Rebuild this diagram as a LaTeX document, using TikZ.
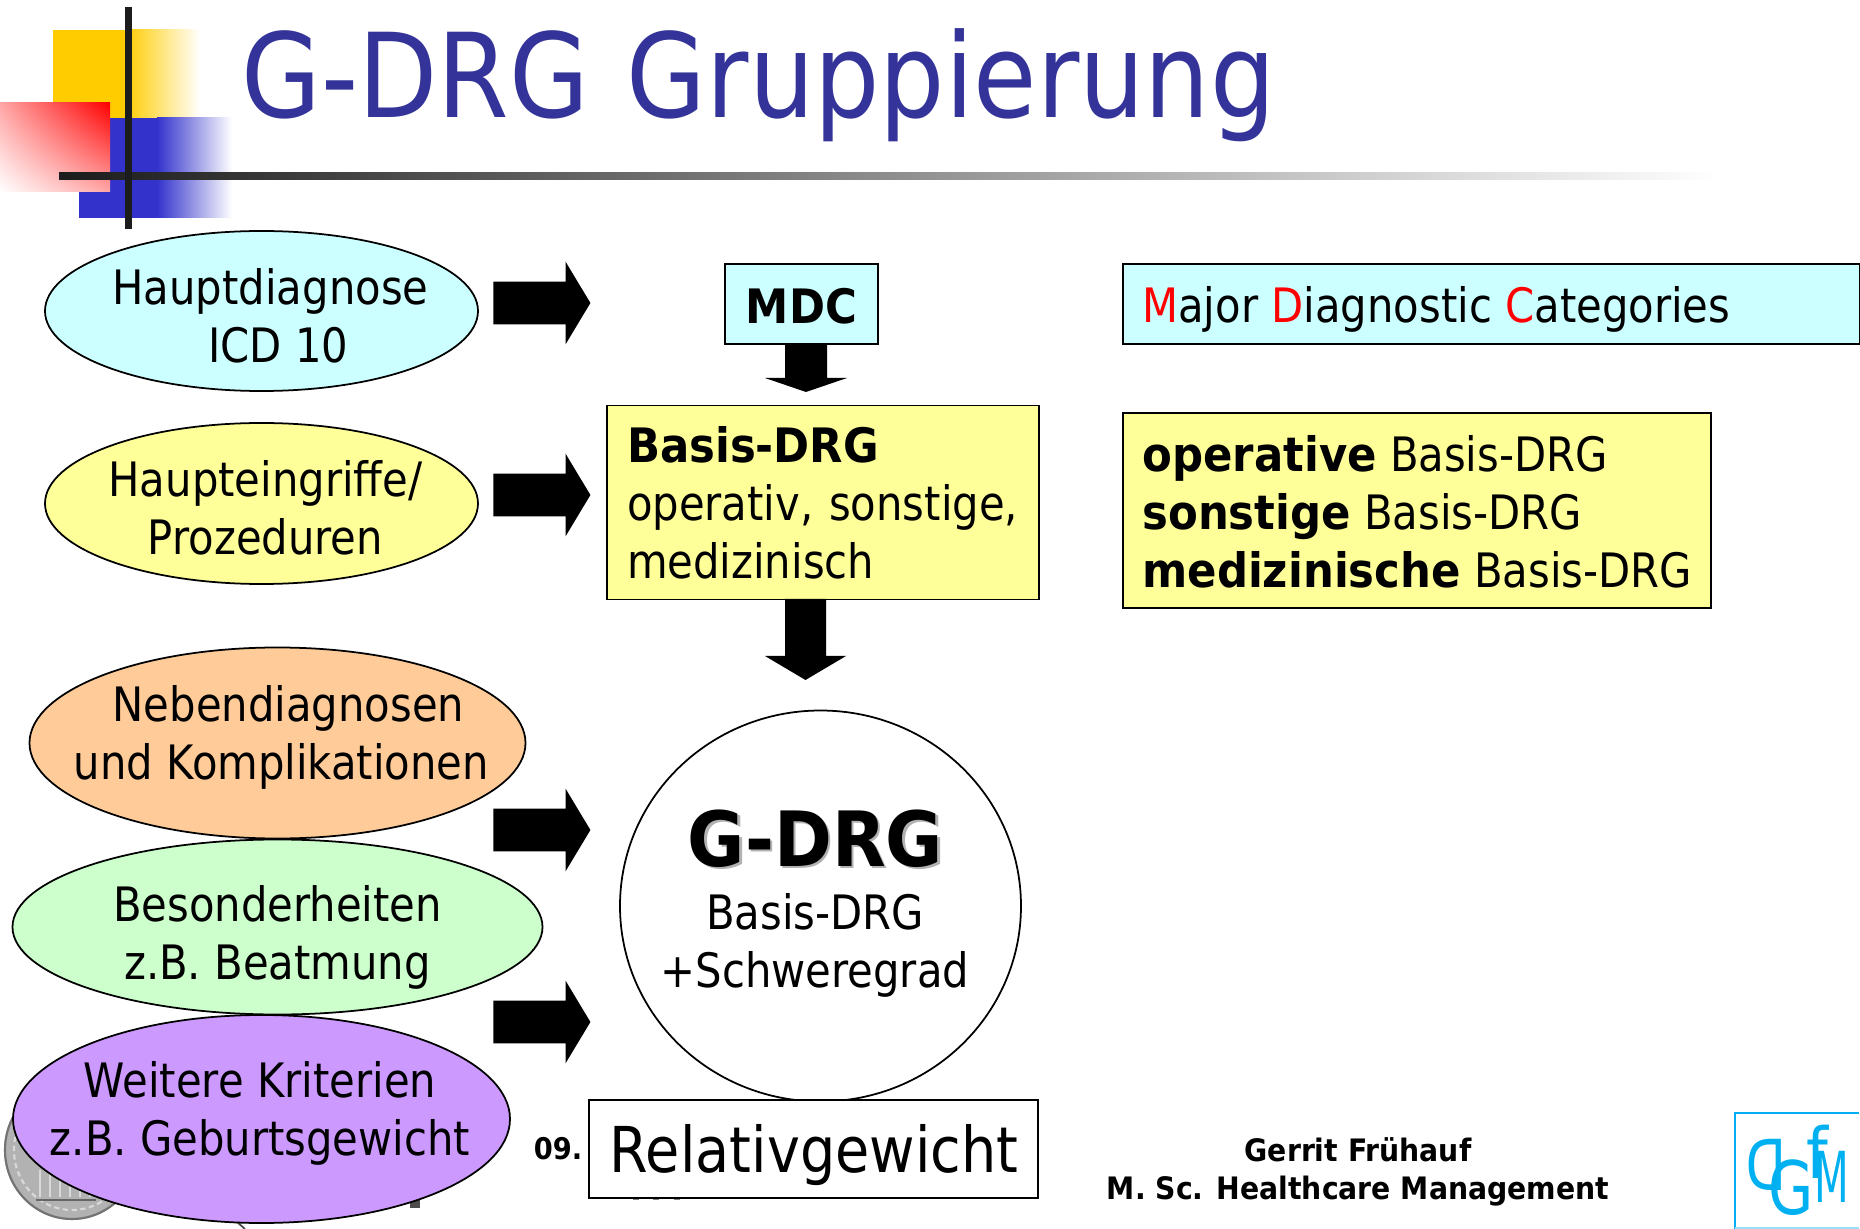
\documentclass[tikz,border=0pt]{standalone}
\usepackage{fontspec}
\setmainfont{DejaVu Sans}[FakeStretch=0.88, BoldFeatures={FakeStretch=0.915}]
\usetikzlibrary{shapes.geometric,shapes.arrows,shadings}
\definecolor{titleblue}{HTML}{333399}
\definecolor{decoblue}{HTML}{3333CC}
\definecolor{decoyellow}{HTML}{FFCC00}
\definecolor{barblack}{HTML}{1C1C1C}
\definecolor{cyanfill}{HTML}{CCFFFF}
\definecolor{yellowfill}{HTML}{FFFF99}
\definecolor{orangefill}{HTML}{FFCC99}
\definecolor{greenfill}{HTML}{CCFFCC}
\definecolor{purplefill}{HTML}{CC99FF}
\definecolor{logoblue}{HTML}{00B0F0}
\tikzset{
    body/.style={font=\fontsize{27}{33}\selectfont},
    oval/.style={ellipse, draw=black, line width=1pt, inner sep=0pt},
    ovaltext/.style={inner sep=0pt, align=center, body},
    kasten/.style={rectangle, draw=black, line width=1pt, inner sep=0pt, body},
    rarrow/.style={single arrow, fill=black, inner xsep=0pt, inner ysep=0.42cm, minimum height=1.94cm,
        single arrow head extend=0.4cm, single arrow tip angle=118},
    logotext/.style={text=logoblue, inner sep=0pt, font=\fontsize{40}{40}\selectfont},
}
\newcommand{\red}[1]{\textcolor{red}{#1}}
\begin{document}
\begin{tikzpicture}[x=0.02cm, y=-0.02cm]
    \useasboundingbox (0,0) rectangle (1860,1229);

    % Ecke oben links
    \fill[decoyellow] (53,30) rectangle (125,118);
    \shade[left color=decoyellow, right color=white] (125,30) rectangle (200,118);
    \fill[decoblue] (79,118) rectangle (157,218);
    \shade[left color=decoblue, right color=white] (157,118) rectangle (232,218);
    \shade[shading=bilinear interpolation, lower left=white, upper right=red, upper left=red!35, lower right=red!35] (0,103) rectangle (110,192);
    \shade[left color=barblack, right color=white] (59,173) rectangle (1720,180);
    \fill[barblack] (125,7) rectangle (132,229);

    % Titel
    \node[text=titleblue, anchor=base west, inner sep=0pt, font=\fontsize{66.6}{67}\selectfont] (titel) at (241,118) {G-DRG\hspace{3pt} Gruppierung};

    % Siegel unten links
    \fill[gray!60] (72,1150) ellipse (68 and 70);
    \draw[black!55, line width=1.2pt] (72,1150) ellipse (67 and 69);
    \draw[white!85!black, line width=1.2pt, dash pattern=on 3pt off 2pt] (72,1150) ellipse (58 and 60);
    \foreach \sx in {40,50,60,70,80,90}
        \draw[white!85!black, line width=1pt] (\sx,1170) -- (\sx,1197);
    \draw[black!60, line width=1pt] (36,1200) -- (96,1200);
    \fill[black!70] (410,1195) rectangle (420,1208);
    \draw[black!70, line width=1pt] (237,1222) -- (245,1229);
    % Reste unter dem Kasten
    \foreach \dx in {636,656,677}
        \fill[gray] (\dx-3,1198.5) rectangle (\dx+3,1200);

    % Ovale links
    \node[oval, fill=cyanfill, minimum width=433*0.02cm, minimum height=160*0.02cm] (hauptdiag) at (261.5,311) {};
    \node[ovaltext] (hauptdiagtext) at (261.5,316)
        {\hspace*{0.36cm}Hauptdiagnose\\\hspace*{0.68cm}ICD 10};
    \node[oval, fill=yellowfill, minimum width=433*0.02cm, minimum height=161*0.02cm] (eingriffe) at (261.5,503.5) {};
    \node[ovaltext] (eingriffetext) at (265.5,507.5) {Haupteingriffe/\\Prozeduren};
    \node[oval, fill=orangefill, minimum width=496*0.02cm, minimum height=191*0.02cm] (neben) at (277.5,743) {};
    \node[ovaltext] (nebentext) at (277.5,737)
        {\hspace*{0.44cm}Nebendiagnosen\\\hspace*{0.16cm}und Komplikationen};
    \node[oval, fill=greenfill, minimum width=530*0.02cm, minimum height=175*0.02cm] (besonder) at (277.5,927) {};
    \node[ovaltext] (besondertext) at (277.5,937.5) {Besonderheiten\\z.B. Beatmung};
    \node[oval, fill=purplefill, minimum width=497*0.02cm, minimum height=208*0.02cm] (weitere) at (261.5,1119) {};
    \node[ovaltext] (weiteretext) at (260,1113.5) {Weitere Kriterien\\z.B. Geburtsgewicht};

    % Pfeile
    \node[rarrow] (pfeilA) at (535.5,303) {};
    \node[rarrow] (pfeilB) at (535.5,495) {};
    \node[rarrow] (pfeilC) at (535.5,830) {};
    \node[rarrow] (pfeilD) at (535.5,1022) {};

    % Kaesten Mitte
    \node[kasten, fill=cyanfill, minimum width=153*0.02cm, minimum height=80*0.02cm] (mdc) at (801.5,304) {};
    \node[inner sep=0pt, font=\fontsize{27}{33}\selectfont\bfseries] (mdctext) at (801.5,306) {MDC};
    \node[kasten, fill=yellowfill, minimum width=432*0.02cm, minimum height=194*0.02cm, align=left, text width=392*0.02cm] (basis) at (823,502.5)
        {\textbf{Basis-DRG}\\operativ, sonstige,\\medizinisch};
    \fill[black] (785,344) -- (785,378) -- (765,378) -- (806,392) -- (847,378) -- (827,378) -- (827,344) -- cycle;
    \fill[black] (785,599) -- (785,656) -- (765,656) -- (805.5,680) -- (846,656) -- (826,656) -- (826,599) -- cycle;

    % Kaesten rechts
    \node[kasten, fill=cyanfill, minimum width=737*0.02cm, minimum height=80*0.02cm, anchor=west] (major) at (1122,304) {};
    \node[inner sep=0pt, anchor=west, body] (majortext) at (1142,309)
        {\red{M}ajor \red{D}iagnostic \red{C}ategories};
    \node[kasten, fill=yellowfill, minimum width=588*0.02cm, minimum height=195*0.02cm, anchor=west] (operative) at (1122,510.5) {};
    \node[inner sep=0pt, anchor=west, align=left, body] (operativetext) at (1142,512)
        {\textbf{operative} Basis-DRG\\\textbf{sonstige} Basis-DRG\\\textbf{medizinische} Basis-DRG};

    % Kreis
    \node[oval, fill=white, minimum width=401*0.02cm, minimum height=391*0.02cm] (gdrg) at (820.5,906) {};
    \node[text=gray!60, inner sep=0pt, font=\fontsize{43.4}{44}\selectfont\bfseries] (gdrgschatten) at (818,841) {G-DRG};
    \node[inner sep=0pt, font=\fontsize{43.4}{44}\selectfont\bfseries] (gdrgtext) at (815.5,839) {G-DRG};
    \node[ovaltext] (gdrgsub) at (815,945) {Basis-DRG\\+Schweregrad};

    % Fusszeile
    \node[inner sep=0pt, font=\fontsize{17}{17}\selectfont\bfseries] (datum) at (558,1149) {09.};
    \node[kasten, fill=white, minimum width=449*0.02cm, minimum height=98*0.02cm] (relativ) at (813.5,1149) {};
    \node[inner sep=0pt, font=\fontsize{36}{36}\selectfont] (relativtext) at (814,1155) {Relativgewicht};
    \node[inner sep=0pt, align=center, font=\fontsize{17.6}{22}\selectfont\bfseries] (autor) at (1358,1172) {Gerrit Frühauf\\M. Sc. Healthcare Management};

    % Logo
    \draw[logoblue, line width=1.6pt] (1735,1229) |- (1859,1113);
    \draw[logoblue!40, line width=1pt] (1735,1228) -- (1859,1228);
    \node[logotext, xscale=-0.85] (logoD) at (1766,1165) {D};
    \node[logotext, scale=1.05, xscale=0.9] (logoG) at (1791.5,1187.5) {G};
    \node[logotext] (logoF) at (1817,1151.5) {f};
    \node[logotext, xscale=0.65] (logoM) at (1831.5,1176.5) {M};
\end{tikzpicture}
\end{document}
